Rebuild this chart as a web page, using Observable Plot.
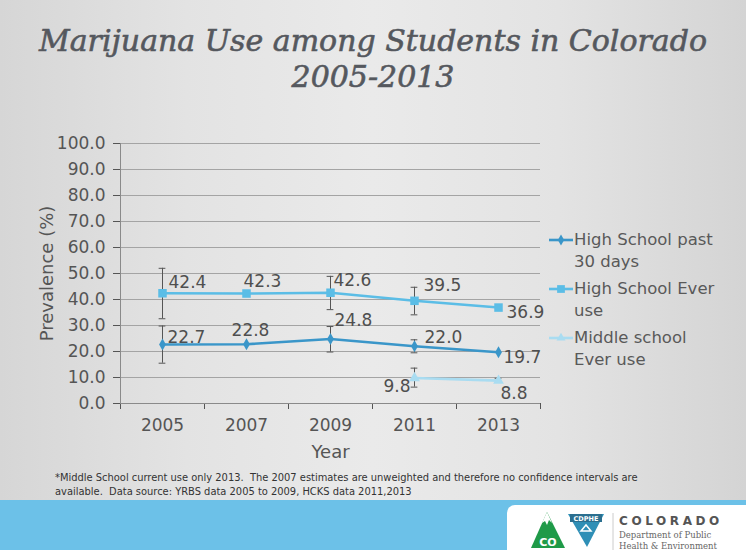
<!DOCTYPE html>
<html>
<head>
<meta charset="utf-8">
<script src="https://cdn.jsdelivr.net/npm/d3@7"></script>
<script src="https://cdn.jsdelivr.net/npm/@observablehq/plot@0.6"></script>
<style>
  html, body { margin: 0; padding: 0; }
  #slide {
    position: relative; width: 746px; height: 550px; overflow: hidden;
    background: linear-gradient(to right, #d6d6d6 0%, #e3e3e3 25%, #eaeaea 50%, #e3e3e3 75%, #d4d4d4 100%);
    font-family: "DejaVu Sans", sans-serif;
  }
  #title {
    position: absolute; left: 0; top: 23px; width: 746px; text-align: center;
    font-family: "DejaVu Serif", serif; font-style: italic; font-size: 30px;
    line-height: 36px; color: #55585e; -webkit-text-stroke: 0.6px #55585e;
  }
  #chart { position: absolute; left: 0; top: 110px; }
  #legend { position: absolute; left: 548px; top: 229px; font-size: 16.5px; color: #595959; }
  .li { display: flex; align-items: flex-start; margin-bottom: 5px; line-height: 22px; }
  .li svg { flex: none; margin-top: 3px; }
  #note {
    position: absolute; left: 55px; top: 471px; width: 625px;
    font-family: "Liberation Sans Narrow", "DejaVu Sans Condensed", sans-serif;
    font-size: 11px; line-height: 14px; color: #333;
  }
  #band { position: absolute; left: 0; top: 500px; width: 746px; height: 50px; background: #6cc1e8; }
  #logo { position: absolute; left: 507px; top: 505px; width: 245px; height: 50px; background: #fff; border-radius: 8px 0 0 0; }
</style>
</head>
<body>
<div id="slide">
  <div id="title">Marijuana Use among Students in Colorado<br>2005-2013</div>
  <div id="chart"></div>
  <div id="legend"></div>
  <div id="note">*Middle School current use only 2013.&nbsp; The 2007 estimates are unweighted and therefore no confidence intervals are available.&nbsp; Data source: YRBS data 2005 to 2009, HCKS data 2011,2013</div>
  <div id="band"></div>
  <div id="logo">
    <svg width="245" height="50" viewBox="0 0 245 50">
      <polygon points="40,7 24,43 58,43" fill="#1f9a48"/>
      <polygon points="40,7 35,18 38,16 40,20 42,15 45,18" fill="#ffffff"/>
      <text x="41" y="41" text-anchor="middle" font-family="DejaVu Sans" font-weight="bold" font-size="11" fill="#fff">CO</text>
      <polygon points="61,9 97,9 80,42" fill="#2f8fb6"/>
      <rect x="63" y="9" width="32" height="8" fill="#2b6f8f"/>
      <text x="79" y="16" text-anchor="middle" font-family="DejaVu Sans" font-weight="bold" font-size="6.5" fill="#fff">CDPHE</text>
      <polygon points="74,26 84,26 79,20" fill="none" stroke="#fff" stroke-width="1.5"/>
      <line x1="106" y1="8" x2="106" y2="45" stroke="#ccc" stroke-width="1"/>
      <text x="112" y="20" font-family="DejaVu Sans" font-weight="bold" font-size="12" letter-spacing="3.6" fill="#555">COLORADO</text>
      <text x="112" y="33" font-family="DejaVu Serif" font-size="8.5" fill="#666">Department of Public</text>
      <text x="112" y="44" font-family="DejaVu Serif" font-size="8.5" fill="#666">Health &amp; Environment</text>
    </svg>
  </div>
</div>
<script>
// ---- data ----
const years = [2005, 2007, 2009, 2011, 2013];
const hs30 = [22.7, 22.8, 24.8, 22.0, 19.7];
const hs30Low = [15.5, null, 19.8, 19.5, null];
const hs30High = [29.8, null, 29.6, 24.5, null];
const hsEver = [42.4, 42.3, 42.6, 39.5, 36.9];
const hsEverLow = [32.6, null, 36.1, 34.1, null];
const hsEverHigh = [52.0, null, 48.9, 44.7, null];
const msYears = [2011, 2013];
const msEver = [9.8, 8.8];
const msLow = [6.3, 8.1];
const msHigh = [13.6, 9.7];
const seriesNames = ["High School past 30 days", "High School Ever use", "Middle school Ever use"];
const yTicks = [0, 10, 20, 30, 40, 50, 60, 70, 80, 90, 100];

// ---- styling ----
const colors = ["#3a96c9", "#5bbde6", "#a9dcf1"];
const symbols = ["diamond", "square", "triangle"];
const sizes = [3.6, 4.8, 4];
const legendLines = [["High School past", "30 days"], ["High School Ever", "use"], ["Middle school", "Ever use"]];
// label offsets [dx, dy, anchor] per series index and year
const nudge = [
  {2005: [5, -7, "start"], 2007: [4, -14, "middle"], 2009: [4, -18, "start"], 2011: [10, -9, "start"], 2013: [5, 5, "start"]},
  {2005: [6, -11, "start"], 2007: [-3, -12, "start"], 2009: [3, -12, "start"], 2011: [9, -15, "start"], 2013: [8, 5, "start"]},
  {2011: [-4, 9, "end"], 2013: [2, 13, "start"]}
];

// ---- build rows ----
const rows = [];
years.forEach((yr, i) => rows.push({s: 0, year: yr, v: hs30[i], lo: hs30Low[i], hi: hs30High[i]}));
years.forEach((yr, i) => rows.push({s: 1, year: yr, v: hsEver[i], lo: hsEverLow[i], hi: hsEverHigh[i]}));
msYears.forEach((yr, i) => rows.push({s: 2, year: yr, v: msEver[i], lo: msLow[i], hi: msHigh[i]}));
const errRows = rows.filter(d => d.lo != null && d.hi != null);
const capW = 0.08;
const boundaries = d3.range(2004, 2015, 2);

const marks = [
  Plot.gridY(yTicks, {stroke: "#a4a4a4", strokeOpacity: 1, strokeWidth: 1}),
  Plot.axisY(yTicks, {tickSize: 7, tickPadding: 8, tickFormat: d => d.toFixed(1), fontSize: 17,
    label: null}),
  Plot.axisY({label: "Prevalence (%)", ticks: [], tickSize: 0, labelAnchor: "center", labelArrow: "none",
    labelOffset: 80, fontSize: 18}),
  Plot.axisX(boundaries, {tickSize: 6, tickFormat: () => "", label: null}),
  Plot.axisX(years, {tickSize: 0, tickPadding: 15, tickFormat: d => String(d), fontSize: 17, label: null}),
  Plot.axisX({label: "Year", ticks: [], tickSize: 0, labelAnchor: "center", labelArrow: "none",
    labelOffset: 54, fontSize: 18}),
  Plot.ruleY([0], {stroke: "#8a8a8a"}),
  Plot.ruleX([2004], {stroke: "#8a8a8a", y1: 0, y2: 100}),
  Plot.ruleX(errRows, {x: "year", y1: "lo", y2: "hi", stroke: "#555", strokeWidth: 1}),
  Plot.ruleY(errRows, {y: "lo", x1: d => d.year - capW, x2: d => d.year + capW, stroke: "#555", strokeWidth: 1}),
  Plot.ruleY(errRows, {y: "hi", x1: d => d.year - capW, x2: d => d.year + capW, stroke: "#555", strokeWidth: 1})
];
[0, 1, 2].forEach(s => {
  const data = rows.filter(d => d.s === s);
  marks.push(Plot.line(data, {x: "year", y: "v", stroke: colors[s], strokeWidth: 2.6}));
  marks.push(Plot.dot(data, {x: "year", y: "v", symbol: symbols[s], r: sizes[s], fill: colors[s], stroke: "none"}));
  data.forEach(d => {
    const [dx, dy, anchor] = nudge[s][d.year];
    marks.push(Plot.text([d], {x: "year", y: "v", text: d => d.v.toFixed(1), dx, dy, textAnchor: anchor,
      fontSize: 17, fill: "#4f4f4f"}));
  });
});

const chart = Plot.plot({
  width: 746, height: 350,
  marginLeft: 120, marginRight: 206, marginTop: 33, marginBottom: 57,
  x: {type: "linear", domain: [2004, 2014]},
  y: {domain: [0, 100]},
  style: {fontFamily: "DejaVu Sans", fontSize: "17px", color: "#555555", background: "transparent", overflow: "visible"},
  marks
});
document.getElementById("chart").appendChild(chart);

// ---- legend ----
const legend = document.getElementById("legend");
seriesNames.forEach((name, s) => {
  const item = document.createElement("div");
  item.className = "li";
  item.title = name;
  const sym = d3.symbol(s === 0 ? d3.symbolDiamond : s === 1 ? d3.symbolSquare : d3.symbolTriangle, s === 1 ? 60 : 35)();
  item.innerHTML = `<svg width="26" height="16"><line x1="1" y1="8" x2="25" y2="8" stroke="${colors[s]}" stroke-width="2.6"/>` +
    `<path d="${sym}" transform="translate(13,8)" fill="${colors[s]}"/></svg>` +
    `<div>${legendLines[s][0]}<br>${legendLines[s][1]}</div>`;
  legend.appendChild(item);
});
</script>
</body>
</html>
